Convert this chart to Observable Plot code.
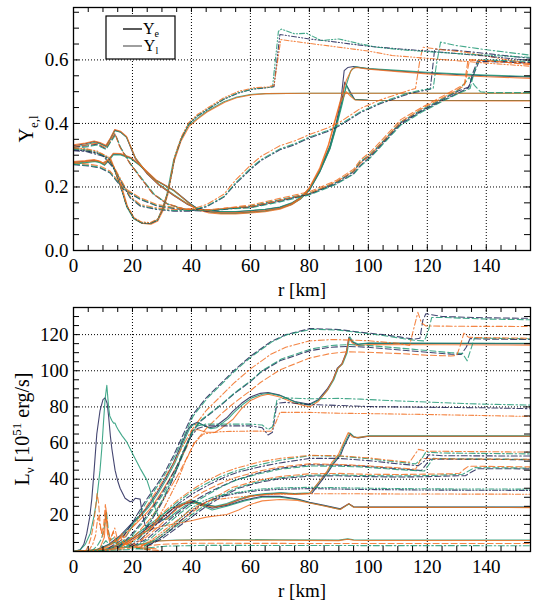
<!DOCTYPE html>
<html>
<head>
<meta charset="utf-8">
<script src="https://cdn.jsdelivr.net/npm/d3@7"></script>
<script src="https://cdn.jsdelivr.net/npm/@observablehq/plot@0.6"></script>
<style>
  body { margin: 0; background: #fff; }
  #chart { width: 536px; height: 607px; }
  #chart svg { display: block; }
</style>
</head>
<body>
<div id="chart"></div>
<script>
// ---------- colours and line styles ----------
const NAVY = "#1b1d52", TEAL = "#1b9672", ORANGE = "#f26b1c";
const DASHES = {solid: null, dash: "6,3", dashdot: "6,2.5,1.5,2.5", dashdotdot: "5,2,1.2,2,1.2,2"};

// ---------- axis ticks and labels ----------
const xMajor = [0, 20, 40, 60, 80, 100, 120, 140];
const xGrid = [20, 40, 60, 80, 100, 120, 140];
const xMinor = d3.range(5, 155, 5);
const yeLabels = [0.0, 0.2, 0.4, 0.6];
const yeGrid = [0.2, 0.4, 0.6];
const yeMinor = d3.range(0.05, 0.76, 0.05);
const lumLabels = [20, 40, 60, 80, 100, 120];
const lumGrid = [20, 40, 60, 80, 100, 120];
const lumMinor = d3.range(5, 135, 5);
const legendSubs = ["e", "l"];
const legendColors = ["#000000", "#6a6a6a"];

// ---------- upper panel: electron / lepton fraction, [r km, Y] ----------
// solid, upper start branch
const yeSolidUpNavy = [[0,.33],[4,.336],[7,.343],[9,.338],[11,.329],[12.5,.352],[14,.379],[16,.373],[18,.357],[19.5,.322],[21,.289],[25,.241],[29,.206],[34,.173],[38.5,.146],[42,.132],[46,.125],[50,.122],[55,.122],[60,.125],[65,.129],[70,.136],[74,.149],[77,.166],[80,.194],[83.5,.252],[87,.33],[89.2,.405],[90.8,.48],[91.8,.566],[93,.576],[95,.579],[100,.572],[110,.565],[120,.559],[130,.554],[140,.55],[155,.546]];
const yeSolidUpTeal = [[0,.325],[4,.332],[7,.34],[9,.336],[11,.327],[12.5,.35],[14,.377],[16,.372],[18,.356],[19.5,.324],[21,.292],[25,.244],[29,.209],[34,.176],[38.5,.148],[42,.133],[46,.126],[50,.123],[55,.123],[60,.126],[65,.13],[70,.137],[74,.15],[77,.167],[80,.195],[83.5,.252],[87,.328],[89.2,.4],[91,.462],[92.5,.52],[94,.565],[95.5,.578],[100,.573],[110,.567],[120,.561],[130,.556],[140,.552],[155,.548]];
const yeSolidUpOrange = [[0,.333],[4,.338],[7,.345],[9,.34],[11,.331],[12.5,.354],[14,.381],[16,.375],[18,.359],[19.5,.325],[21,.291],[25,.243],[29,.207],[34,.174],[38.5,.147],[42,.13],[46,.122],[50,.119],[55,.119],[60,.122],[65,.126],[70,.133],[74,.147],[77,.166],[80,.198],[83.5,.26],[86.5,.335],[88.5,.405],[90.5,.472],[92.5,.535],[94.5,.572],[96,.576],[100,.571],[110,.563],[120,.556],[130,.551],[140,.547],[155,.542]];
// solid, lower start branch
const yeSolidLoNavy = [[0,.278],[4,.281],[7,.284],[9,.279],[10.5,.27],[12,.286],[13.5,.304],[16,.303],[19.5,.291],[22.5,.269],[28,.221],[34,.19],[39.5,.148],[42,.132],[46,.122],[50,.118],[55,.118],[60,.121],[65,.125],[70,.133],[74,.146],[77,.163],[80,.19],[83.5,.247],[87,.322],[89.2,.395],[91,.468],[92,.53],[93.5,.505],[95.3,.476],[100,.473],[155,.472]];
const yeSolidLoTeal = [[0,.272],[4,.276],[7,.28],[9,.276],[10.5,.268],[12,.283],[13.5,.301],[16,.301],[19.5,.289],[22.5,.267],[28,.22],[34,.188],[39.5,.147],[42,.131],[46,.121],[50,.117],[55,.117],[60,.12],[65,.124],[70,.132],[74,.145],[77,.162],[80,.19],[83.5,.247],[87,.32],[89.2,.39],[91,.455],[92.6,.52],[94,.49],[95.5,.475],[100,.473],[155,.472]];
const yeSolidLoOrange = [[0,.28],[4,.283],[7,.286],[9,.281],[10.5,.272],[12,.288],[13.5,.306],[16,.305],[19.5,.293],[22.5,.27],[28,.222],[34,.19],[39.5,.146],[42,.128],[46,.118],[50,.115],[55,.115],[60,.118],[65,.122],[70,.13],[74,.144],[77,.163],[80,.195],[83.5,.255],[86.5,.33],[88.5,.4],[90.5,.465],[92.5,.5],[94,.485],[95.5,.474],[100,.472],[155,.471]];
// solid, dip near 25 km
const yeSolidDipTeal = [[0,.275],[4,.278],[8,.281],[10,.274],[11.5,.283],[12.4,.289],[14,.25],[15.8,.21],[18.1,.136],[20.4,.1],[23.2,.086],[26,.084],[28.3,.094],[30,.126],[31.7,.178],[32.8,.231],[33.9,.283],[36.2,.346],[39,.393],[42,.416],[45,.437],[51,.468],[55,.482],[60,.491],[65,.494],[80,.495],[155,.495]];
const yeSolidDipOrange = [[0,.277],[4,.28],[8,.283],[10,.276],[11.7,.285],[12.6,.29],[14.3,.25],[16.1,.21],[18.4,.136],[20.7,.1],[23.5,.085],[26.3,.083],[28.6,.093],[30.3,.124],[32,.176],[33.1,.23],[34.2,.282],[36.5,.345],[39.3,.392],[42.3,.415],[45.3,.436],[51.3,.467],[55.3,.481],[60.3,.49],[65.3,.494],[80,.495],[155,.495]];
// dash-dot-dot, jump near 68-70 km
const yeDddTeal = [[0,.32],[4,.318],[8,.31],[10,.3],[12,.292],[14,.255],[16,.2],[18,.142],[20.5,.102],[23,.088],[26,.086],[28.5,.097],[30.3,.132],[32,.183],[33.2,.238],[34.3,.292],[36.5,.352],[39,.398],[42,.424],[46,.448],[51,.477],[56,.497],[61,.509],[66,.513],[67.5,.515],[69.5,.69],[70.5,.697],[75,.682],[79,.684],[84,.661],[90,.666],[97,.651],[103,.64],[111,.632],[120,.626],[130,.62],[140,.615],[155,.608]];
const yeDddNavy = [[0,.316],[4,.314],[8,.307],[10,.298],[12,.29],[14,.253],[16,.199],[18,.141],[20.5,.101],[23,.087],[26,.085],[28.5,.096],[30.3,.131],[32,.182],[33.2,.237],[34.3,.291],[36.5,.351],[39,.397],[42,.423],[46,.447],[51,.476],[56,.496],[61,.508],[66,.513],[68,.516],[70,.68],[80,.666],[90,.655],[100,.643],[110,.635],[120,.628],[140,.612],[155,.598]];
const yeDddOrange = [[0,.323],[4,.321],[8,.313],[10,.303],[12,.294],[14,.257],[16,.202],[18,.144],[20.5,.104],[23,.09],[26,.088],[28.5,.099],[30.3,.134],[32,.186],[33.2,.241],[34.3,.295],[36.5,.356],[39,.402],[42,.428],[46,.452],[51,.481],[56,.501],[61,.512],[66,.515],[68,.52],[70.3,.664],[80,.652],[90,.64],[100,.628],[108,.614],[120,.605],[140,.59],[155,.58]];
// dash-dot, jump near 116-124 km
const yeDdTeal = [[0,.318],[4,.315],[8,.305],[10.2,.299],[13.6,.262],[17,.205],[19.2,.168],[22.6,.142],[28.3,.131],[34,.126],[39.6,.126],[45.2,.14],[51,.17],[55,.213],[60,.258],[63.4,.285],[70,.32],[75,.336],[80,.357],[86,.377],[90.5,.397],[97.3,.437],[104,.465],[108.6,.48],[114,.497],[118,.505],[122,.51],[123,.58],[124.5,.656],[130,.645],[140,.632],[155,.615]];
const yeDdNavy = [[0,.314],[4,.312],[8,.302],[10.2,.296],[13.6,.259],[17,.202],[19.2,.166],[22.6,.14],[28.3,.129],[34,.124],[39.6,.124],[45.2,.138],[51,.168],[55,.21],[60,.255],[63.4,.282],[70,.317],[75,.333],[80,.354],[86,.374],[90.5,.394],[97.3,.434],[104,.462],[108.6,.477],[114,.494],[118,.502],[121,.508],[122.5,.634],[130,.63],[140,.62],[155,.605]];
const yeDdOrange = [[0,.321],[4,.318],[8,.308],[10.2,.302],[13.6,.265],[17,.208],[19.2,.171],[22.6,.145],[28.3,.134],[34,.129],[39.6,.129],[45.2,.145],[51,.177],[55,.222],[60,.268],[63.4,.295],[70,.33],[75,.345],[80,.365],[86,.385],[90.5,.405],[97.3,.447],[104,.474],[108.6,.488],[114,.505],[116,.51],[117.5,.6],[118.5,.64],[125,.632],[133,.624],[140,.612],[155,.588]];
// dashed, lower start, jump near 133-137 km
const yeDashLoTeal = [[0,.272],[5,.268],[9,.262],[12.4,.246],[17,.194],[22.6,.163],[28.3,.142],[34,.134],[39.6,.128],[45.2,.126],[51,.131],[60,.14],[70,.16],[80,.18],[89,.215],[95,.25],[97.3,.28],[100.7,.303],[104,.335],[111,.405],[118,.443],[126,.482],[130.5,.505],[133,.53],[134.2,.545],[136,.52],[138,.5],[141,.497],[155,.497]];
const yeDashLoNavy = [[0,.27],[5,.266],[9,.26],[12.4,.244],[17,.192],[22.6,.161],[28.3,.14],[34,.132],[39.6,.126],[45.2,.124],[51,.129],[60,.138],[70,.158],[80,.178],[89,.213],[95,.248],[97.3,.278],[100.7,.3],[104,.332],[111,.402],[118,.44],[126,.48],[130.5,.502],[134,.515],[136,.56],[137.5,.594],[140,.595],[155,.59]];
const yeDashLoOrange = [[0,.276],[5,.272],[9,.266],[12.4,.25],[17,.198],[22.6,.166],[28.3,.145],[34,.136],[39.6,.13],[45.2,.128],[51,.133],[60,.143],[70,.164],[80,.185],[89,.22],[95,.256],[97.3,.285],[100.7,.31],[104,.342],[111,.412],[118,.45],[126,.49],[130,.51],[132.8,.525],[134.3,.6],[140,.598],[155,.586]];
// dashed, upper start
const yeDashUpNavy = [[0,.325],[5,.33],[8,.335],[11,.32],[13,.35],[14.1,.367],[15.8,.326],[19.2,.273],[22.6,.231],[27,.178],[31.7,.147],[37.3,.131],[42,.128],[47,.127],[52,.132],[60,.136],[70,.155],[80,.177],[89,.21],[95,.242],[97.3,.268],[100.7,.295],[104,.328],[111,.398],[118,.438],[126,.476],[131,.498],[134,.512],[135.5,.56],[137,.597],[140,.597],[155,.592]];
const yeDashUpTeal = [[0,.32],[5,.327],[8,.332],[11,.318],[13,.347],[14.3,.364],[16,.324],[19.5,.271],[23,.229],[27.5,.176],[32,.146],[37.5,.13],[42,.127],[47,.126],[52,.131],[60,.134],[70,.153],[80,.175],[89,.208],[95,.24],[97.3,.265],[100.7,.292],[104,.325],[111,.395],[118,.435],[126,.474],[131,.496],[134.5,.51],[136,.565],[137.5,.6],[140,.6],[155,.595]];
const yeDashUpOrange = [[0,.328],[5,.333],[8,.338],[11,.323],[13,.353],[14,.37],[15.6,.328],[19,.276],[22.4,.233],[26.8,.18],[31.5,.149],[37,.132],[42,.129],[47,.128],[52,.134],[60,.138],[70,.158],[80,.18],[89,.216],[95,.25],[97.3,.275],[100.7,.302],[104,.334],[111,.405],[118,.446],[126,.485],[130,.505],[132.5,.518],[133.8,.6],[140,.598],[155,.585]];

// ---------- lower panel: neutrino luminosity, [r km, L in 1e51 erg/s] ----------
// solid with early peak
const lumPeakNavy = [[0,0],[2.3,1],[3.5,4],[4.5,10],[5.5,19],[6.2,29],[7,45],[7.9,65],[9,78],[10,84],[10.7,85],[11.4,82],[11.9,75],[12.5,64],[13,57],[14.1,45],[15,39],[15.8,35],[17.5,29.5],[19.2,27.5],[20.2,28],[21,29.5],[22.6,29],[23.2,22],[24.3,14.5],[25.5,13.5],[27,14.5],[29,16],[32,19.5],[35,24],[38,26.5],[41,27.5],[44,25.5],[47,24],[52,25.5],[58,28.5],[64,30.5],[70,30.5],[76,29],[80,27.2],[85,25.5],[90.5,23.6],[93.4,26.4],[95,24.8],[100,24.6],[155,24.6]];
const lumPeakTeal = [[0,0],[2.3,1],[4,4],[5.7,10],[7,20],[7.9,29],[9,45],[9.6,57],[10.2,72],[10.7,84],[11.3,92],[11.9,80],[12.3,75],[13,72.5],[13.6,71],[14.1,71],[14.6,69],[15.3,67],[16.5,64],[18.1,60.5],[20.4,53],[22.6,46],[24.9,39.5],[26,34],[27,28],[27.7,24],[28.8,19.5],[30,17.5],[32,18],[35,22],[38,25.5],[41,27],[44,25],[47,23],[52,25],[58,28],[64,30],[70,30],[76,28.8],[80,27],[85,25.3],[90.5,23.3],[93.4,26.2],[95,24.6],[100,24.4],[155,24.4]];
const lumLowSolidOrange = [[0,0],[8,1],[14,3],[18,6],[22,9],[26,12],[30,14],[35,15.5],[40,17],[45,19],[48.7,19.8],[52,20.5],[56,23],[60,26],[64,28],[70,28.8],[76,28.3],[80,26.8],[85,25.2],[90.5,23.2],[93.4,26.5],[95,24.5],[100,24.4],[155,24.3]];
// solid rising to ~64
const lumMidSolidTeal = [[0,0],[10,1],[16,4],[20,8],[25,14],[30,20],[33,24],[36,26],[40,28.5],[44,26],[48,25],[52,26.5],[56,29],[60,31],[65,32],[70,32.5],[75,32],[80.4,32.5],[84,39.9],[86,44],[88,49],[90.3,53.6],[91.4,58.2],[93.7,65.6],[95,63.5],[96.5,63],[100,64],[155,64]];
const lumMidSolidNavy = [[0,0],[11,1],[17,4],[21,8],[26,14],[31,20],[34,24],[37,26],[40.5,28],[44.5,25.8],[48.5,24.8],[52.5,26.3],[56.5,28.8],[60.5,30.8],[65.5,31.8],[70.5,32.3],[75.5,31.8],[80.8,32.2],[84.3,39.5],[86.3,43.8],[88.3,48.8],[90.6,53.4],[91.7,58],[93.9,65.2],[95.2,63.3],[96.7,62.8],[100,63.8],[155,63.8]];
const lumMidSolidOrange = [[0,0],[12,1],[18,4],[22,8],[27,14],[31,20],[34,24],[37,26],[40,27.5],[44,25.5],[48,24.5],[52,26],[56,28.5],[60,30.5],[65,31.5],[70,32],[75,31.5],[80,32],[83.5,39],[86,44.5],[87.5,49],[89.8,53.6],[91,58],[93.2,65.8],[94.5,63.5],[96,63],[100,63.8],[155,63.8]];
// solid rising to ~115
const lumHighSolidNavy = [[0,0],[8,1],[12,4],[16,9],[20,16],[22.6,20],[25,24.5],[28.3,32.5],[31,40],[33.9,49],[37.3,62],[39,68],[40,70],[42,71.5],[44,70],[46,68.5],[48,69],[50,71.5],[52,74],[54,77.5],[57,82],[60,85.5],[63.4,87.5],[66,88],[70,86.5],[75,83],[80,81.5],[83,84],[86,89.8],[88,95],[89.5,101.5],[91,103.8],[92.5,110],[93.4,118.5],[94.5,116],[96.2,114.5],[100,115.2],[155,115]];
const lumHighSolidTeal = [[0,0],[8.5,1],[12.5,4],[16.5,9],[20.5,16],[23,20],[25.5,24.5],[28.8,32.5],[31.5,40],[34.4,49],[37.7,62],[39.4,68],[40.5,70],[42.5,71],[44.5,69.5],[46.5,68],[48.5,68.5],[50.5,71],[52.5,73.5],[54.5,77],[57.5,81.5],[60.5,85],[64,87],[66.5,87.5],[70.5,86],[75.5,82.5],[80,81],[83.3,83.8],[86.3,89.5],[88.3,95],[89.8,101.5],[91.3,103.8],[92.8,110],[93.7,118.8],[94.8,116],[96.5,114.8],[100,115.4],[155,115.2]];
const lumHighSolidOrange = [[0,0],[9,1],[13,4],[17,9],[21,15],[24,20],[26.5,24.5],[29.5,32],[32.5,40],[35.3,48],[38.5,58],[40,66.5],[42,67.5],[45,66],[48,66],[50,68],[54,73],[57,79],[60,83.5],[63.4,86],[66,87],[70,85.5],[75,82],[80,80],[83,83],[86,89],[88,95],[89.5,101],[91,103.5],[92.5,110],[93.4,118],[94.5,115.5],[96.2,113.8],[100,114.5],[155,114.2]];
// top dashed family, jump near 118-121 km
const lumTopDashNavy = [[12,2],[16,6],[20.4,17],[24,27],[28.3,37],[31,44],[33.9,53],[37,64],[40.1,75],[45,85],[50,93],[54.3,100],[60,108],[66.8,116],[72,120],[80.4,123.4],[90,122.8],[97.4,121.3],[105,120],[111,118.6],[115.5,117.5],[117.5,118],[118.5,128],[119.5,131.5],[125,130],[140,129.3],[155,129]];
const lumTopDashTeal = [[13,2],[17,6],[21,17],[24.6,27],[28.8,37],[31.5,44],[34.4,53],[37.5,64],[40.6,75],[45.5,85],[50.5,93],[54.8,100],[60.5,108],[67.3,116],[72.5,120],[80.8,123],[90,122.5],[97.4,121],[105,119.5],[111,118],[116,116.8],[119,116.5],[120.5,123],[121.5,129.5],[125,129.5],[140,128.6],[155,128.2]];
const lumTopDdOrange = [[14,3],[18,9],[22,18],[28,33],[34,49],[40,67],[45,78],[50,86],[54.3,93],[60,101],[66.8,109],[72,113],[80,116.5],[88,117.3],[100,116.6],[110,115.2],[114,114],[115.5,124],[116.8,132.3],[118,126.5],[119.5,124.8],[130,124.6],[155,124.5]];
// second dashed family, jump near 131-136 km
const lumUpDashNavy = [[15,2],[20,10],[25,20],[30,32],[35,47],[40.1,66],[43,72],[47,77],[50,81],[54.3,87],[60,94],[63.4,99],[70,105.5],[80,111],[87,113],[93,113.5],[100,113],[111,111.5],[120,110.2],[128,109.2],[131.5,109],[133.2,113],[134.5,117.8],[140,117.5],[155,117.3]];
const lumUpDashTeal = [[15.5,2],[20.5,10],[25.5,20],[30.5,32],[35.5,47],[40.6,67],[43.5,73],[47.5,78],[50.5,82],[54.8,88],[60.5,95],[63.9,100],[70.5,106.5],[80.5,112],[87.5,114],[93.5,114.5],[100,114],[111,112.5],[120,111.2],[128,110],[132,109.5],[133.5,105.5],[134.8,112],[136,118.2],[140,118],[155,117.7]];
const lumUpDashOrange = [[16,2],[21,9],[26,18],[31,30],[36,44],[41,60],[45,68],[50,76],[54.3,82],[60,89],[63.4,93.5],[70,100.5],[80,107],[87,109.5],[93,110.5],[100,110.2],[111,109.5],[120,108.6],[128,108.2],[130,108.5],[131.2,114],[132.4,120.8],[134,118.5],[140,118.3],[155,118]];
// dash-dot, plateau near 70 then jump near 68 km
const lumDd70Teal = [[22,8],[26,17],[30,28],[34,42],[37,55],[40,65],[42,69.5],[45,70.5],[50,70.5],[55,70.5],[60,70.5],[64,70],[66,67.5],[67.5,69],[69,84],[72,85],[80,84.5],[90,84.7],[97.4,84.3],[110,83.3],[120,82.7],[130,82],[140,81.5],[155,81]];
const lumDd70Navy = [[22,7],[26,16],[30,27],[34,41],[37,54],[40,64],[42,68],[45,69.5],[50,69.5],[55,69.5],[60,69.5],[64,68.5],[66,64.5],[67.5,66],[69,82],[72,82.5],[80,81.3],[90,80.8],[100,80.2],[120,79.8],[140,79.5],[155,79]];
const lumDd70Orange = [[23,6],[27,14],[31,25],[35,38],[38,50],[41,60],[44,65],[50,66.3],[55,66.5],[60,66.6],[64,66.6],[67,66.5],[68.5,71],[70,77],[80,77],[90,76.5],[100,76.3],[120,75.8],[140,75.2],[155,74.7]];
// dash-dot near 50, jump near 116-120 km
const lumDd50Teal = [[18,3],[22,7],[26,13],[30,20],[35,27],[40,33],[45,37.5],[50,41.5],[55,44.5],[63,48],[70,50.5],[80,53],[90,52.8],[100,51.3],[110,49.5],[116,48.5],[118,51],[119.5,55],[125,54.5],[155,54]];
const lumDd50Navy = [[19,3],[23,7],[27,13],[31,20],[36,27],[41,32.5],[46,37],[51,41],[56,44],[63,46.8],[70,49],[80,51.5],[90,51.5],[100,50.3],[110,48.5],[117,47.5],[119,50],[120.5,53.5],[125,53],[155,52.8]];
const lumDd50Orange = [[18,4],[22,8],[26,14],[30,21],[35,28],[40,34],[45,39],[50,43],[55,46],[63,49.5],[70,51.5],[80,53.2],[90,53],[100,51.8],[110,50],[114,49.4],[115.5,53],[117,56.5],[120,55.5],[155,55]];
// dashed near 45, jump near 117-122 km
const lumDash45Navy = [[20,3],[25,7],[30,14],[35,21],[40,27],[45,32],[50,36],[55,39.5],[63,43.6],[70,46],[80,48],[90,47.8],[97.4,47.3],[110,45.8],[118,44.8],[119.5,48],[121,51],[130,51],[155,50.8]];
const lumDash45Teal = [[21,3],[26,7],[31,14],[36,21],[41,27],[46,32],[51,36.5],[56,40],[63,43],[70,45.5],[80,47.3],[90,47.2],[97.4,46.8],[110,45.3],[119,44.5],[120.5,48],[122,51.5],[130,51.3],[155,51]];
const lumDash45Orange = [[19,3],[24,7],[29,14],[34,22],[39,28],[44,33],[49,37],[54,40.5],[63,44.5],[70,46.8],[80,48.5],[90,48.2],[97.4,47.6],[110,46.3],[116,45.5],[117,48.5],[118,51.5],[130,51.2],[155,51]];
// dashed near 42, jump near 132-137 km
const lumDash42Teal = [[24,3],[29,7],[34,13],[39,19],[44,25],[49,30],[55,35],[63,38.8],[70,40.8],[80,42.2],[90,42.4],[97.4,42],[110,41.8],[120,42],[128,42.5],[132,42.7],[134,44.5],[136,46.4],[145,46.3],[155,46.2]];
const lumDash42Navy = [[25,3],[30,7],[35,13],[40,19],[45,25],[50,30],[56,35],[63,38.2],[70,40.3],[80,41.7],[90,41.9],[97.4,41.5],[110,41.2],[120,41.4],[128,41.8],[133,42],[135,44],[137,45.8],[145,45.8],[155,45.7]];
const lumDash42Orange = [[23,3],[28,7],[33,13],[38,19],[43,25],[48,30],[54,35.5],[63,39.5],[70,41.5],[80,43],[90,43.2],[97.4,42.8],[110,42.6],[120,42.8],[128,43],[131,43.3],[132.5,45.5],[134,47.2],[145,47],[155,46.8]];
// dash-dot-dot near 35
const lumDd35Teal = [[24,3],[28,7],[32,12],[36,18],[40,24],[44,28],[48,30.5],[55,32.5],[63,34.5],[70,35.2],[80,35.5],[90,35.3],[100,35],[110,34.8],[120,34.7],[130,34.6],[140,34.6],[155,34.5]];
const lumDd35Navy = [[25,3],[29,7],[33,12],[37,18],[41,23.5],[45,27.5],[49,30],[55,32],[63,33.8],[70,34.4],[80,34.8],[100,34.3],[120,34],[155,33.8]];
const lumDd35Orange = [[23,3],[27,7],[31,12],[35,17],[39,22],[43,26],[47,28.5],[55,30],[63,31.2],[70,31.8],[80,32],[100,31.9],[120,31.8],[155,31.7]];
// faint flavours near the bottom
const lumLowTeal = [[0,0],[10,1],[18,2.5],[24,4.5],[28,5.8],[35,6.4],[50,6.6],[70,6.5],[90,6.3],[93,7],[95,6.5],[100,6.4],[155,6.4]];
const lumLowOrange = [[0,0],[12,1],[20,2.8],[25,4.6],[29,5.8],[36,6.2],[50,6.3],[70,6.2],[90,6],[93,6.8],[95,6.2],[100,6.1],[155,6.1]];
const lumLowDashOrange = [[0,0],[15,1],[22,2.5],[30,4],[40,4.6],[60,4.5],[100,4.4],[155,4.4]];
const lumLowDdTeal = [[0,0],[18,1],[25,2],[32,3],[45,3.4],[80,3.3],[155,3.2]];
// noisy early traces
const lumNoiseDashOrange = [[4,0],[5,3],[6,8],[6.8,15],[7.5,24],[8,32],[8.5,27],[9,16],[9.5,10],[10.2,14],[10.8,26],[11.3,18],[11.8,9],[12.5,6],[13.5,11],[14.5,5],[16,8],[17,4],[18.5,6],[20,3],[22,2],[25,1],[30,0.5]];
const lumNoiseDdOrange = [[5,0],[6.5,4],[7.5,9],[8.3,20],[9,14],[10,8],[11,21],[11.6,12],[12.5,7],[14,13],[15,6],[16.5,10],[18,4],[20,5],[22,2],[26,1]];
const lumNoiseDashTeal = [[6,0],[8,3],[9.5,7],[10.5,14],[11.2,22],[11.8,12],[12.5,6],[14,8],[15.5,4],[17,6],[19,3],[22,2],[26,1]];
const lumNoiseDdTeal = [[7,0],[9,2],[11,6],[12,4],[14,5],[16,3],[20,2],[25,1]];
const lumNoiseSolidOrange = [[6,0],[9,2],[10.5,8],[11,24],[11.5,10],[12.5,4],[14,6],[16,3],[18,5],[20,2.5],[24,2],[28,1.5]];

// ---------- series lists: [colour, style, points] ----------
const yeSeries = [
  [NAVY, "solid", yeSolidUpNavy], [TEAL, "solid", yeSolidUpTeal], [ORANGE, "solid", yeSolidUpOrange],
  [NAVY, "solid", yeSolidLoNavy], [TEAL, "solid", yeSolidLoTeal], [ORANGE, "solid", yeSolidLoOrange],
  [TEAL, "solid", yeSolidDipTeal], [ORANGE, "solid", yeSolidDipOrange],
  [NAVY, "dashdotdot", yeDddNavy], [TEAL, "dashdotdot", yeDddTeal], [ORANGE, "dashdotdot", yeDddOrange],
  [NAVY, "dashdot", yeDdNavy], [TEAL, "dashdot", yeDdTeal], [ORANGE, "dashdot", yeDdOrange],
  [NAVY, "dash", yeDashLoNavy], [TEAL, "dash", yeDashLoTeal], [ORANGE, "dash", yeDashLoOrange],
  [NAVY, "dash", yeDashUpNavy], [TEAL, "dash", yeDashUpTeal], [ORANGE, "dash", yeDashUpOrange]
];
const lumSeries = [
  [NAVY, "solid", lumPeakNavy], [TEAL, "solid", lumPeakTeal], [ORANGE, "solid", lumLowSolidOrange],
  [NAVY, "solid", lumMidSolidNavy], [TEAL, "solid", lumMidSolidTeal], [ORANGE, "solid", lumMidSolidOrange],
  [NAVY, "solid", lumHighSolidNavy], [TEAL, "solid", lumHighSolidTeal], [ORANGE, "solid", lumHighSolidOrange],
  [NAVY, "dash", lumTopDashNavy], [TEAL, "dash", lumTopDashTeal], [ORANGE, "dashdot", lumTopDdOrange],
  [NAVY, "dash", lumUpDashNavy], [TEAL, "dash", lumUpDashTeal], [ORANGE, "dash", lumUpDashOrange],
  [NAVY, "dashdot", lumDd70Navy], [TEAL, "dashdot", lumDd70Teal], [ORANGE, "dashdotdot", lumDd70Orange],
  [NAVY, "dashdot", lumDd50Navy], [TEAL, "dashdot", lumDd50Teal], [ORANGE, "dashdot", lumDd50Orange],
  [NAVY, "dash", lumDash45Navy], [TEAL, "dash", lumDash45Teal], [ORANGE, "dash", lumDash45Orange],
  [NAVY, "dash", lumDash42Navy], [TEAL, "dash", lumDash42Teal], [ORANGE, "dash", lumDash42Orange],
  [NAVY, "dashdotdot", lumDd35Navy], [TEAL, "dashdotdot", lumDd35Teal], [ORANGE, "dashdotdot", lumDd35Orange],
  [TEAL, "solid", lumLowTeal], [ORANGE, "solid", lumLowOrange], [ORANGE, "dash", lumLowDashOrange], [TEAL, "dashdot", lumLowDdTeal],
  [ORANGE, "dash", lumNoiseDashOrange], [ORANGE, "dashdot", lumNoiseDdOrange], [TEAL, "dash", lumNoiseDashTeal],
  [TEAL, "dashdot", lumNoiseDdTeal], [ORANGE, "solid", lumNoiseSolidOrange]
];

// ---------- drawing ----------
const FONT = "'Liberation Serif', 'Times New Roman', serif";
const W = 536, ML = 73, MR = 6, MT = 7;
const colourOrder = [NAVY, TEAL, ORANGE];

function toRows(series) {
  const rows = [];
  series
    .map((s, i) => ({i, s}))
    .sort((a, b) => colourOrder.indexOf(a.s[0]) - colourOrder.indexOf(b.s[0]) || a.i - b.i)
    .forEach(({i, s: [color, style, pts]}) => pts.forEach(([r, v]) => rows.push({id: i, color, style, r, v})));
  return rows;
}

function panel({series, yDomain, grid, minor, labels, fmt, height, marginBottom}) {
  const rows = toRows(series);
  const plotW = W - ML - MR, plotH = height - MT - marginBottom;
  const lineMarks = Object.keys(DASHES).map(style =>
    Plot.line(rows.filter(d => d.style === style), {
      x: "r", y: "v", z: "id", stroke: "color",
      strokeWidth: 1.1, strokeOpacity: 0.82,
      strokeDasharray: DASHES[style] ?? undefined
    })
  );
  return Plot.plot({
    width: W, height, marginLeft: ML, marginRight: MR, marginTop: MT, marginBottom,
    style: {fontFamily: FONT, fontSize: "19px", background: "white", color: "black", overflow: "visible"},
    x: {domain: [0, 155]},
    y: {domain: yDomain},
    color: {type: "identity"},
    marks: [
      Plot.ruleX(xGrid, {stroke: "black", strokeWidth: 1, strokeDasharray: "1,2"}),
      Plot.ruleY(grid, {stroke: "black", strokeWidth: 1, strokeDasharray: "1,2"}),
      ...lineMarks,
      // inward minor ticks on all four sides
      Plot.tickX(xMinor, {x: d => d, insetTop: plotH - 5, stroke: "black"}),
      Plot.tickX(xMinor, {x: d => d, insetBottom: plotH - 5, stroke: "black"}),
      Plot.tickY(minor, {y: d => d, insetRight: plotW - 6, stroke: "black"}),
      Plot.tickY(minor, {y: d => d, insetLeft: plotW - 6, stroke: "black"}),
      Plot.axisX(xMajor, {anchor: "bottom", tickSize: 0, tickPadding: 8, label: null, fontSize: 19}),
      Plot.axisY(labels, {anchor: "left", tickSize: 0, tickPadding: 5, tickFormat: fmt, label: null, fontSize: 19}),
      Plot.text(["r [km]"], {frameAnchor: "bottom", dy: 39, lineAnchor: "middle", fontSize: 19}),
      Plot.frame({stroke: "black", strokeWidth: 1.3})
    ]
  });
}

function verticalTitle(svg, x, y, parts) {
  const t = d3.select(svg).append("text")
    .attr("transform", `translate(${x},${y}) rotate(-90)`)
    .attr("text-anchor", "middle")
    .attr("font-family", FONT).attr("font-size", 20).attr("fill", "black");
  let shift = 0;
  for (const [str, kind] of parts) {
    const target = kind === "sub" ? 5 : kind === "sup" ? -8 : 0;
    const ts = t.append("tspan").text(str).attr("dy", target - shift);
    if (kind) ts.attr("font-size", 13);
    shift = target;
  }
}

const container = document.getElementById("chart");

const yeSvg = panel({
  series: yeSeries, yDomain: [0, 0.765], grid: yeGrid, minor: yeMinor,
  labels: yeLabels, fmt: d3.format(".1f"), height: 300, marginBottom: 50
});
container.appendChild(yeSvg);
verticalTitle(yeSvg, 33, 129, [["Y", null], ["e,l", "sub"]]);

// legend box
const lg = d3.select(yeSvg).append("g").attr("font-family", FONT);
lg.append("rect").attr("x", 106).attr("y", 16).attr("width", 69).attr("height", 43)
  .attr("fill", "white").attr("stroke", "black").attr("stroke-width", 1.2);
legendSubs.forEach((sub, i) => {
  const yLine = 29 + 17 * i;
  lg.append("line").attr("x1", 123).attr("x2", 142).attr("y1", yLine).attr("y2", yLine)
    .attr("stroke", legendColors[i]).attr("stroke-width", 1.3);
  const t = lg.append("text").attr("x", 151).attr("y", yLine + 5).attr("font-size", 16).attr("fill", "black");
  t.append("tspan").text("Y");
  t.append("tspan").text(sub).attr("font-size", 10).attr("dy", 2.5);
});

const lumSvg = panel({
  series: lumSeries, yDomain: [0, 135], grid: lumGrid, minor: lumMinor,
  labels: lumLabels, fmt: d3.format("d"), height: 307, marginBottom: 56
});
container.appendChild(lumSvg);
verticalTitle(lumSvg, 29, 129, [["L", null], ["ν", "sub"], [" [10", null], ["51", "sup"], [" erg/s]", null]]);
</script>
</body>
</html>
